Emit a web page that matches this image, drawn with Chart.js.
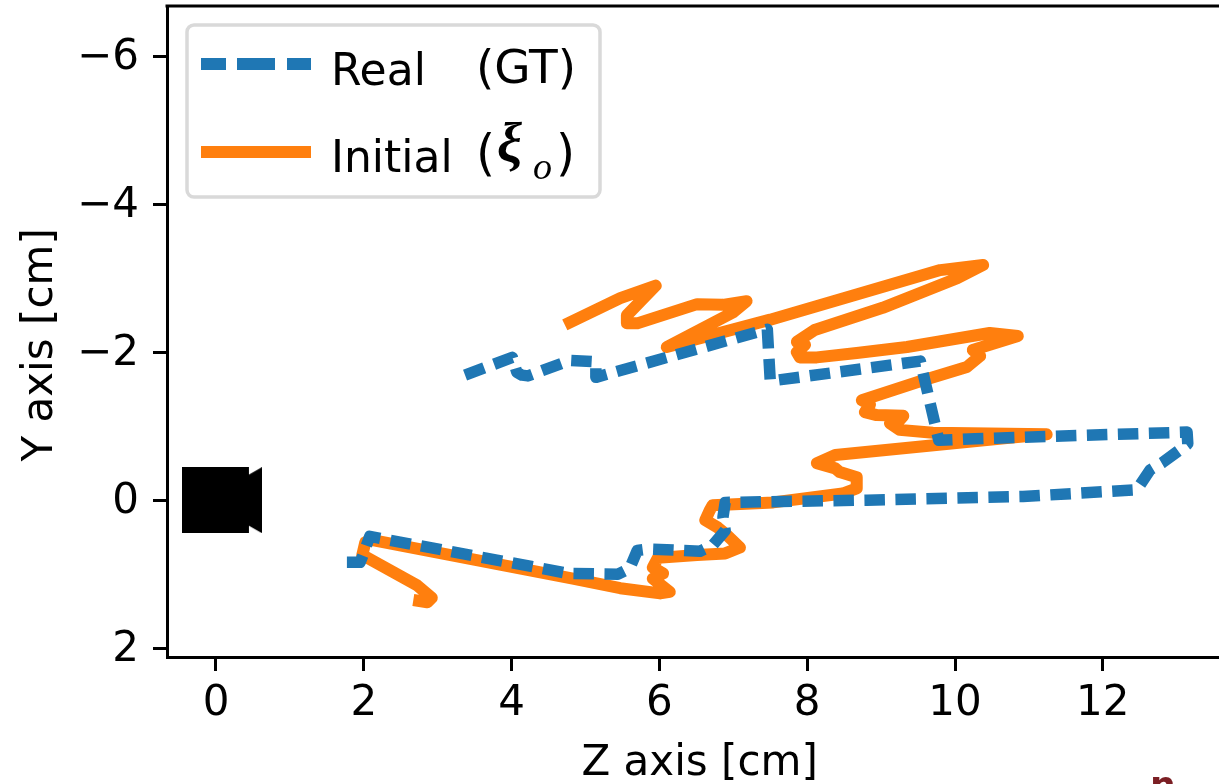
<!DOCTYPE html>
<html>
<head>
<meta charset="utf-8">
<style>html,body{margin:0;padding:0;background:#fff;overflow:hidden}canvas{display:block}</style>
<script src="https://cdn.jsdelivr.net/npm/chart.js@4/dist/chart.umd.min.js"></script>
</head>
<body>
<canvas id="c" width="1219" height="784"></canvas>
<script>
const realZ = [3.37,4.01,4.07,4.14,4.22,4.79,5.14,5.14,7.46,7.50,9.53,9.78,10.27,13.14,13.15,12.81,12.64,12.46,10.92,8.81,6.89,6.86,6.89,6.72,6.55,5.85,5.70,5.60,5.44,4.76,4.34,2.08,1.99,1.95,1.68];
const realY = [-1.69,-1.93,-1.73,-1.69,-1.68,-1.89,-1.87,-1.66,-2.31,-1.61,-1.88,-0.81,-0.83,-0.92,-0.76,-0.51,-0.41,-0.14,-0.05,0,0.03,0.23,0.41,0.61,0.69,0.66,0.68,0.92,1.00,0.99,0.91,0.49,0.74,0.84,0.84];
const initialZ = [4.72,5.47,5.95,5.56,5.56,5.70,6.51,6.86,7.18,7.00,6.10,7.50,9.80,10.38,10.03,9.02,8.10,7.86,7.97,7.86,7.90,8.13,8.67,9.35,10.47,10.85,10.24,10.34,10.16,9.57,8.74,8.85,8.78,8.94,9.30,9.25,9.12,9.25,9.70,11.24,10.70,8.38,8.13,8.38,8.44,8.67,8.67,8.48,7.54,6.72,6.68,6.62,6.79,6.91,7.09,6.89,6.51,5.98,5.91,6.05,5.91,6.14,6.01,5.47,4.83,2.12,2.02,1.98,2.72,2.92,2.86,2.67];
const initialY = [-2.37,-2.73,-2.90,-2.50,-2.39,-2.39,-2.65,-2.64,-2.69,-2.54,-2.07,-2.44,-3.11,-3.18,-3.00,-2.60,-2.30,-2.14,-2.10,-2.00,-1.93,-1.93,-1.99,-2.07,-2.26,-2.22,-2.03,-1.95,-1.80,-1.62,-1.35,-1.29,-1.19,-1.15,-1.14,-1.08,-1.04,-0.95,-0.91,-0.89,-0.84,-0.61,-0.50,-0.43,-0.38,-0.31,-0.16,-0.09,0.03,0.07,0.14,0.27,0.37,0.47,0.64,0.72,0.74,0.78,0.91,0.99,1.06,1.24,1.26,1.19,1.06,0.54,0.57,0.74,1.15,1.32,1.38,1.35];
const cameraZ = [0.08];
const cameraY = [0];
const zTicks = [0,2,4,6,8,10,12];
const yTicks = [-6,-4,-2,0,2];
const zTitle = "Z axis [cm]";
const yTitle = "Y axis [cm]";

const BLUE = "#1f77b4", ORANGE = "#ff7f0e";
const FONT = "'DejaVu Sans'";
const SIZE = 42;

const toPoints = (xs, ys) => xs.map((x, i) => ({x, y: ys[i]}));

const cam = document.createElement("canvas");
cam.width = 80; cam.height = 66;
(function () {
  const g = cam.getContext("2d");
  g.fillStyle = "#000";
  g.fillRect(0, 0, 67, 66);
  g.beginPath();
  g.moveTo(66, 8); g.lineTo(80, 0); g.lineTo(80, 66); g.lineTo(66, 58);
  g.closePath(); g.fill();
})();

const frameAndLegend = {
  id: "frameAndLegend",
  afterDraw(chart) {
    const c = chart.ctx, a = chart.chartArea;
    c.save();
    c.strokeStyle = "#000"; c.lineWidth = 3;
    c.beginPath(); c.moveTo(a.left - 1.5, a.top); c.lineTo(a.right, a.top); c.stroke();
    const bx = a.left + 20, by = a.top + 19, bw = 413, bh = 172;
    c.beginPath(); c.roundRect(bx, by, bw, bh, 7);
    c.fillStyle = "rgba(255,255,255,0.8)"; c.fill();
    c.strokeStyle = "#d9d9d9"; c.lineWidth = 3.5; c.stroke();
    c.lineCap = "butt";
    c.strokeStyle = BLUE; c.lineWidth = 12;
    [[201,226],[237,275],[287,311]].forEach(s => { c.beginPath(); c.moveTo(s[0], 64); c.lineTo(s[1], 64); c.stroke(); });
    c.strokeStyle = ORANGE;
    c.beginPath(); c.moveTo(201, 152); c.lineTo(311, 152); c.stroke();
    c.fillStyle = "#000"; c.textBaseline = "alphabetic"; c.textAlign = "left";
    c.font = "44px " + FONT;
    c.fillText("Real", 331, 85);
    c.font = "47px " + FONT;
    c.fillText("(GT)", 476, 83);
    c.font = "44px " + FONT;
    c.fillText("Initial", 331, 172);
    c.font = "49px " + FONT;
    c.fillText("(", 476, 170);
    c.font = "italic bold 56px 'Liberation Serif'";
    c.fillText("\u03be", 497, 162);
    c.font = "italic 38px 'Liberation Serif'";
    c.fillText("o", 533, 179);
    c.font = "49px " + FONT;
    c.fillText(")", 556, 170);
    c.fillStyle = "#7b1f24"; c.font = "bold 36px " + FONT;
    c.fillText("n", 1150, 797);
    c.restore();
  }
};

const noMargins = s => { s.paddingLeft = s.paddingRight = s.paddingTop = s.paddingBottom = 0; };

new Chart(document.getElementById("c"), {
  type: "line",
  data: {
    datasets: [
      {label: "Real (GT)", data: toPoints(realZ, realY), borderColor: BLUE, borderWidth: 11.5,
       borderDash: [20.5, 10.5], borderCapStyle: "butt", borderJoinStyle: "round", pointRadius: 0, fill: false, tension: 0},
      {label: "Initial", data: toPoints(initialZ, initialY), borderColor: ORANGE, borderWidth: 12,
       borderCapStyle: "butt", borderJoinStyle: "round", pointRadius: 0, fill: false, tension: 0},
      {label: "Camera", data: toPoints(cameraZ, cameraY), showLine: false, pointStyle: cam, pointRadius: 40,
       pointBackgroundColor: "#000", pointBorderWidth: 0}
    ]
  },
  options: {
    responsive: false, animation: false, events: [],
    layout: {autoPadding: false, padding: {top: 6, left: 0, right: 0, bottom: 0}},
    plugins: {legend: {display: false}, tooltip: {enabled: false}, title: {display: false}},
    scales: {
      x: {
        type: "linear", min: -0.663, max: 13.572,
        afterFit(s) { s.height = 127; noMargins(s); },
        afterBuildTicks(s) { s.ticks = zTicks.map(value => ({value})); },
        grid: {drawOnChartArea: false, tickLength: 14, tickWidth: 3, tickColor: "#000"},
        border: {display: true, color: "#000", width: 3},
        ticks: {font: {family: FONT, size: SIZE}, color: "#000", padding: 8, maxRotation: 0, autoSkip: false, includeBounds: false},
        title: {display: true, text: " " + zTitle, color: "#000", font: {family: FONT, size: SIZE}, padding: {top: 8, bottom: -5}}
      },
      y: {
        type: "linear", reverse: true, min: -6.68, max: 2.12,
        afterFit(s) { s.width = 167; noMargins(s); },
        afterBuildTicks(s) { s.ticks = yTicks.map(value => ({value})); },
        grid: {drawOnChartArea: false, tickLength: 14, tickWidth: 3, tickColor: "#000"},
        border: {display: true, color: "#000", width: 3},
        ticks: {font: {family: FONT, size: SIZE}, color: "#000", padding: 14, labelOffset: 2, autoSkip: false, includeBounds: false,
                callback: v => v < 0 ? "\u2212" + (-v) : String(v)},
        title: {display: true, text: yTitle + "  ", color: "#000", font: {family: FONT, size: SIZE}, padding: {top: 16, bottom: 0}}
      }
    }
  },
  plugins: [frameAndLegend]
});
</script>
</body>
</html>
